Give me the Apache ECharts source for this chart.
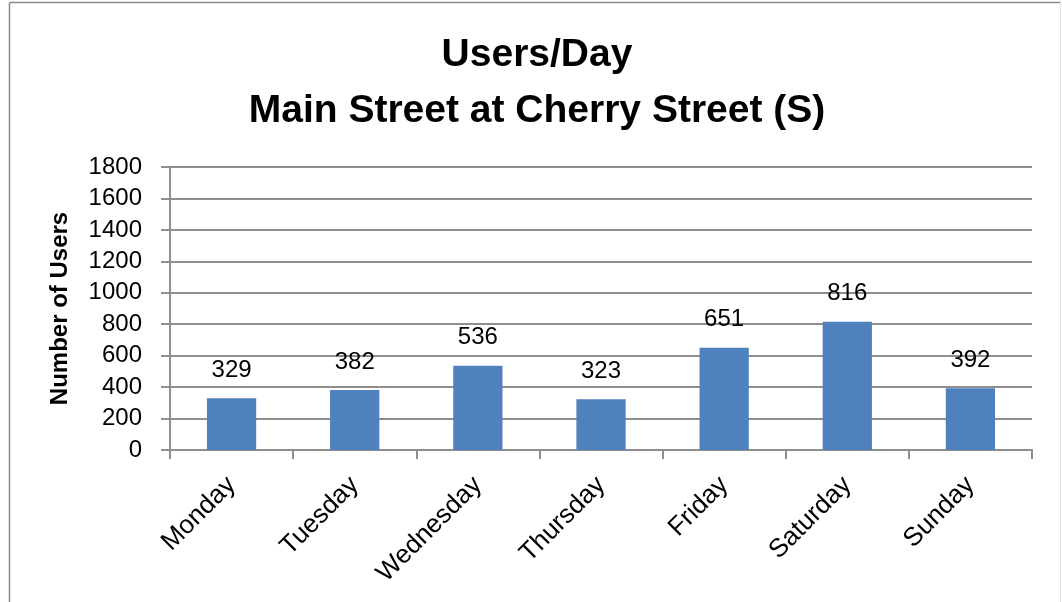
<!DOCTYPE html>
<html>
<head>
<meta charset="utf-8">
<script src="https://cdn.jsdelivr.net/npm/echarts@6/dist/echarts.min.js"></script>
<style>
html,body{margin:0;padding:0;background:#fff;}
#c{width:1062px;height:602px;}
</style>
</head>
<body>
<div id="c"></div>
<script>
var categories = ['Monday','Tuesday','Wednesday','Thursday','Friday','Saturday','Sunday'];
var users = [329, 382, 536, 323, 651, 816, 392];
var titleLines = ['Users/Day', 'Main Street at Cherry Street (S)'];
var yAxisName = 'Number of Users';

var FONT = '"Liberation Sans", Arial, sans-serif';
var GRID = '#8e8e8e';
var chart = echarts.init(document.getElementById('c'), null, {renderer:'canvas'});
chart.setOption({
  animation: false,
  backgroundColor: '#ffffff',
  title: {
    text: titleLines.join('\n'),
    left: 532, textAlign: 'center', top: 22,
    textStyle: {fontFamily: FONT, fontSize: 39, fontWeight: 'bold', color: '#000', lineHeight: 56}
  },
  graphic: [
    {type:'line', shape:{x1:9.5,y1:2.5,x2:9.5,y2:602}, style:{stroke:'#8a8a8a',lineWidth:1.5}, silent:true},
    {type:'line', shape:{x1:9.5,y1:2.5,x2:1060.5,y2:2.5}, style:{stroke:'#8a8a8a',lineWidth:1.5}, silent:true},
    {type:'line', shape:{x1:1060.5,y1:2.5,x2:1060.5,y2:602}, style:{stroke:'#e4e4e4',lineWidth:1}, silent:true}
  ],
  grid: {left: 170, right: 30, top: 167, bottom: 152, containLabel: false},
  xAxis: {
    type: 'category',
    data: categories,
    boundaryGap: true,
    axisLine: {show: true, lineStyle: {color: GRID, width: 2}},
    axisTick: {show: true, length: 9, lineStyle: {color: GRID, width: 2}},
    axisLabel: {
      rotate: 45, margin: 31, align: 'right', verticalAlign: 'middle', interval: 0,
      fontFamily: FONT, fontSize: 26, color: '#000'
    },
    splitLine: {show: false}
  },
  yAxis: {
    type: 'value',
    min: 0, max: 1800, interval: 200,
    name: yAxisName,
    nameLocation: 'middle',
    nameGap: 98,
    nameRotate: 90,
    nameTextStyle: {fontFamily: FONT, fontSize: 24, fontWeight: 'bold', color: '#000'},
    axisLine: {show: true, lineStyle: {color: GRID, width: 2}},
    axisTick: {show: true, length: 9, lineStyle: {color: GRID, width: 2}},
    axisLabel: {margin: 28, fontFamily: FONT, fontSize: 24, color: '#000',
      formatter: function (v) { return String(v); }},
    splitLine: {show: true, lineStyle: {color: GRID, width: 2}}
  },
  series: [{
    type: 'bar',
    data: users,
    barWidth: '40%',
    itemStyle: {color: '#4f81bd'},
    label: {
      show: true, position: 'top', distance: 16,
      fontFamily: FONT, fontSize: 24, color: '#000'
    }
  }]
});
</script>
</body>
</html>
